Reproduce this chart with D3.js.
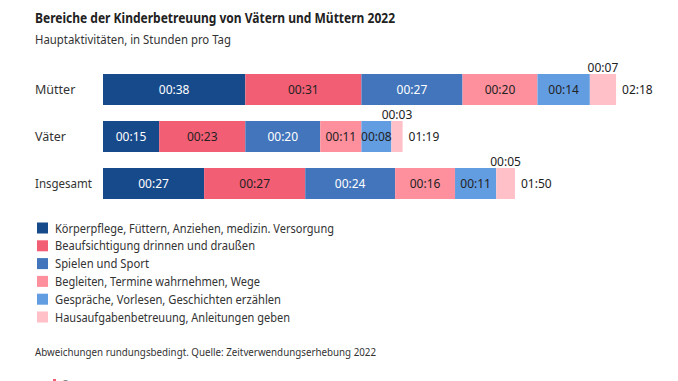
<!DOCTYPE html>
<html><head><meta charset="utf-8">
<script src="https://cdn.jsdelivr.net/npm/d3@7"></script>
<style>
body{margin:0;background:#fff;}
svg{display:block;font-family:"Noto Sans",sans-serif;}
</style></head>
<body><div id="chart"></div>
<script>
const categories = ["Mütter", "Väter", "Insgesamt"];
const seriesNames = [
  "Körperpflege, Füttern, Anziehen, medizin. Versorgung",
  "Beaufsichtigung drinnen und draußen",
  "Spielen und Sport",
  "Begleiten, Termine wahrnehmen, Wege",
  "Gespräche, Vorlesen, Geschichten erzählen",
  "Hausaufgabenbetreuung, Anleitungen geben"
];
const muetter = [38, 31, 27, 20, 14, 7];
const vaeter = [15, 23, 20, 11, 8, 3];
const insgesamt = [27, 27, 24, 16, 11, 5];
const totals = ["02:18", "01:19", "01:50"];
const colors = ["#174a8b", "#f25f75", "#4275bb", "#fe909d", "#629de2", "#ffc0c7"];
const textColors = ["#fff", "#222", "#fff", "#222", "#222", "#222"];

const W = 678, H = 381;
const svg = d3.select("#chart").append("svg").attr("width", W).attr("height", H);

// squeeze a text to a narrower width (reference uses a narrower typeface)
function fit(sel, maxW) {
  const n = sel.node();
  if (n.getComputedTextLength() > maxW) sel.attr("textLength", maxW).attr("lengthAdjust", "spacingAndGlyphs");
  return sel;
}

const rows = [muetter, vaeter, insgesamt].map((vals, i) => ({cat: categories[i], vals, total: totals[i]}));

const x = d3.scaleLinear().domain([0, 140]).range([103, 103 + 140 * 3.745]);
const y = d3.scaleBand().domain(categories).range([74, 199]).paddingInner(16 / 47).paddingOuter(0);
const fmt = m => "00:" + String(m).padStart(2, "0");

fit(svg.append("text").attr("x", 35).attr("y", 23).attr("font-size", 14).attr("font-weight", 700)
  .attr("fill", "#222").text("Bereiche der Kinderbetreuung von Vätern und Müttern 2022"), 360);
fit(svg.append("text").attr("x", 35).attr("y", 44).attr("font-size", 12).attr("fill", "#333")
  .text("Hauptaktivitäten, in Stunden pro Tag"), 196);

const g = svg.append("g");
rows.forEach(r => {
  const stack = [];
  let acc = 0;
  r.vals.forEach((v, j) => { stack.push({v, j, x0: acc, x1: acc + v}); acc += v; });
  const yy = y(r.cat), bh = y.bandwidth();
  fit(g.append("text").attr("x", 35).attr("y", yy + bh / 2).attr("dominant-baseline", "central")
    .attr("font-size", 12.5).attr("fill", "#333").text(r.cat), r.cat.length > 6 ? 57 : 100);
  g.selectAll(null).data(stack).enter().append("rect")
    .attr("x", d => x(d.x0)).attr("y", yy).attr("width", d => x(d.x1) - x(d.x0)).attr("height", bh)
    .attr("fill", d => colors[d.j]);
  g.selectAll(null).data(stack).enter().append("text")
    .attr("x", d => (x(d.x0) + x(d.x1)) / 2)
    .attr("y", d => d.v < 7.5 ? yy - 7 : yy + bh / 2)
    .attr("dominant-baseline", "central").attr("text-anchor", "middle")
    .attr("font-size", 12)
    .attr("fill", d => d.v < 7.5 ? "#222" : textColors[d.j])
    .text(d => fmt(d.v));
  g.append("text").attr("x", x(acc) + 6).attr("y", yy + bh / 2).attr("dominant-baseline", "central")
    .attr("font-size", 12).attr("fill", "#222").text(r.total);
});

const legendWidths = [279, 200, 94, 205, 226, 235];
const leg = svg.append("g");
seriesNames.forEach((n, i) => {
  const cy = 228 + i * 17.8;
  leg.append("rect").attr("x", 37).attr("y", cy - 5.5).attr("width", 11).attr("height", 11).attr("fill", colors[i]);
  fit(leg.append("text").attr("x", 55).attr("y", cy).attr("dominant-baseline", "central")
    .attr("font-size", 12).attr("fill", "#333").text(n), legendWidths[i]);
});

fit(svg.append("text").attr("x", 35).attr("y", 356).attr("font-size", 11).attr("fill", "#333")
  .text("Abweichungen rundungsbedingt. Quelle: Zeitverwendungserhebung 2022"), 341);
svg.append("text").attr("x", 61).attr("y", 389).attr("font-size", 11).attr("fill", "#333")
  .text("© Statistisches Bundesamt (Destatis), 2024");
svg.append("rect").attr("x", 53).attr("y", 379).attr("width", 3).attr("height", 4).attr("fill", "#f25f75");
</script></body></html>
